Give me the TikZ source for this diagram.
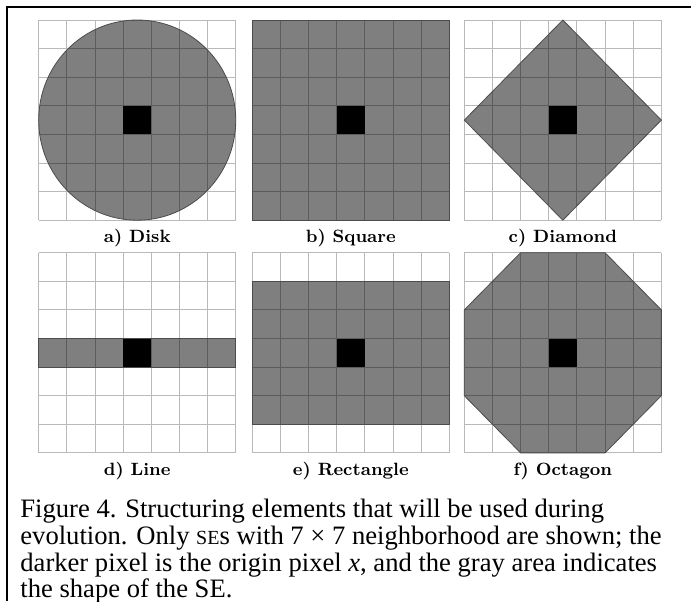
\documentclass[tikz,border=0pt]{standalone}
\usepackage{fontspec}
\newfontfamily\capfont{Liberation Serif}
\usetikzlibrary{positioning}

\tikzstyle{frameline} = [draw=black, line width=1pt]
\tikzstyle{panel} = [x=14.075pt, y=-14.3pt]
\tikzstyle{cellgrid} = [draw=gray!55, line width=0.5pt]
\tikzstyle{sefill} = [
    fill=black,
    fill opacity=0.5,
    draw=black!70,
    line width=0.4pt
]
\tikzstyle{originpx} = [fill=black]
\tikzstyle{sublabel} = [
    font=\fontsize{8.9}{10}\selectfont\bfseries,
    inner sep=0pt
]
\tikzstyle{captiontext} = [
    font=\capfont\fontsize{13.3}{13.3}\selectfont,
    align=left,
    inner sep=0pt
]

\begin{document}
\begin{tikzpicture}[x=0.5pt, y=-0.5pt]

\useasboundingbox (0,0) rectangle (691,601);
\draw [frameline] (7,601) -- (7,7.3) -- (691,7.3);

% a) disk
\begin{scope}[shift={(38.7,20)}, panel]
\foreach \i in {0,...,7} {
    \draw [cellgrid] (\i,0) -- (\i,7);
    \draw [cellgrid] (0,\i) -- (7,\i);
}
\path [sefill] (3.5,3.5) circle [radius=3.5];
\fill [originpx] (3,3) rectangle (4,4);
\coordinate (disk) at (3.5,7);
\end{scope}

% b) square
\begin{scope}[shift={(252.3,20)}, panel]
\foreach \i in {0,...,7} {
    \draw [cellgrid] (\i,0) -- (\i,7);
    \draw [cellgrid] (0,\i) -- (7,\i);
}
\path [sefill] (0,0) rectangle (7,7);
\fill [originpx] (3,3) rectangle (4,4);
\coordinate (square) at (3.5,7);
\end{scope}

% c) diamond
\begin{scope}[shift={(464.3,20)}, panel]
\foreach \i in {0,...,7} {
    \draw [cellgrid] (\i,0) -- (\i,7);
    \draw [cellgrid] (0,\i) -- (7,\i);
}
\path [sefill] (3.5,0) -- (7,3.5) -- (3.5,7) -- (0,3.5) -- cycle;
\fill [originpx] (3,3) rectangle (4,4);
\coordinate (diamond) at (3.5,7);
\end{scope}

% d) line
\begin{scope}[shift={(38.7,252.7)}, panel]
\foreach \i in {0,...,7} {
    \draw [cellgrid] (\i,0) -- (\i,7);
    \draw [cellgrid] (0,\i) -- (7,\i);
}
\path [sefill] (0,3) rectangle (7,4);
\fill [originpx] (3,3) rectangle (4,4);
\coordinate (line) at (3.5,7);
\end{scope}

% e) rectangle
\begin{scope}[shift={(252.3,252.7)}, panel]
\foreach \i in {0,...,7} {
    \draw [cellgrid] (\i,0) -- (\i,7);
    \draw [cellgrid] (0,\i) -- (7,\i);
}
\path [sefill] (0,1) rectangle (7,6);
\fill [originpx] (3,3) rectangle (4,4);
\coordinate (rectangle) at (3.5,7);
\end{scope}

% f) octagon
\begin{scope}[shift={(464.3,252.7)}, panel]
\foreach \i in {0,...,7} {
    \draw [cellgrid] (\i,0) -- (\i,7);
    \draw [cellgrid] (0,\i) -- (7,\i);
}
\path [sefill] (2,0) -- (5,0) -- (7,2) -- (7,5) -- (5,7) -- (2,7)
    -- (0,5) -- (0,2) -- cycle;
\fill [originpx] (3,3) rectangle (4,4);
\coordinate (octagon) at (3.5,7);
\end{scope}

\node (disklbl) [sublabel, below=4.5pt of disk] {a) Disk};
\node (squarelbl) [sublabel, below=4.5pt of square] {b) Square};
\node (diamondlbl) [sublabel, below=4.5pt of diamond] {c) Diamond};
\node (linelbl) [sublabel, below=4.5pt of line] {d) Line};
\node (rectanglelbl) [sublabel, below=4.5pt of rectangle] {e) Rectangle};
\node (octagonlbl) [sublabel, below=4.5pt of octagon] {f) Octagon};

\node (caption) [captiontext, anchor=north west] at (20,499)
{Figure 4. Structuring elements that will be used during\\
evolution. Only {\fontsize{10}{10}\selectfont SE}s with 7 × 7 neighborhood are shown; the\\
darker pixel is the origin pixel \textit{x}, and the gray area indicates\\
the shape of the SE.};

\end{tikzpicture}
\end{document}
